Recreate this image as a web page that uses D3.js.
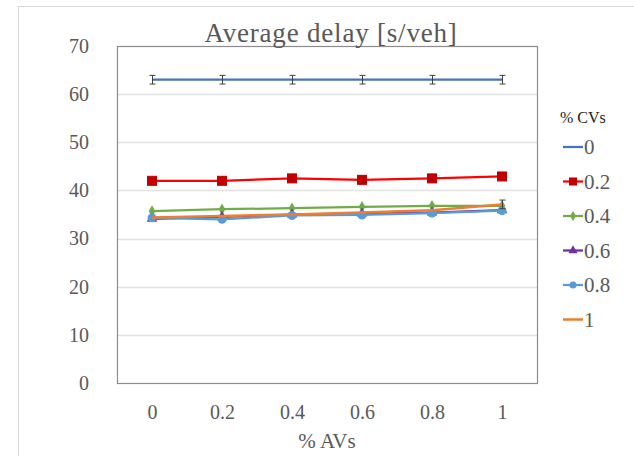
<!DOCTYPE html>
<html>
<head>
<meta charset="utf-8">
<script src="https://cdn.jsdelivr.net/npm/d3@7"></script>
<style>
  html, body { margin: 0; padding: 0; background: #fff; }
  svg { display: block; }
  text { font-family: "Liberation Serif", "DejaVu Serif", serif; fill: #595959; }
</style>
</head>
<body>
<svg id="chart" width="634" height="456"></svg>
<script>
// Share of automated vehicles (x categories)
const avShares = ["0", "0.2", "0.4", "0.6", "0.8", "1"];
// Series keyed by share of connected vehicles
const cvLabels = ["0", "0.2", "0.4", "0.6", "0.8", "1"];
const delayCV0  = [63.0, 63.0, 63.0, 63.0, 63.0, 63.0];
const delayCV02 = [42.0, 42.0, 42.5, 42.2, 42.5, 42.9];
const delayCV04 = [35.7, 36.1, 36.3, 36.6, 36.8, 36.8];
const delayCV06 = [34.1, 34.5, 35.0, 35.2, 35.4, 35.9];
const delayCV08 = [34.3, 34.0, 34.8, 34.9, 35.3, 35.8];
const delayCV1  = [34.4, 34.7, 35.0, 35.4, 35.9, 37.1];
const errCV0 = [0.9, 0.9, 0.9, 0.9, 0.9, 0.9];
const errCV1 = [0, 0, 0, 0, 0, 0.9];
const yTicks = [0, 10, 20, 30, 40, 50, 60, 70];

const series = [
  { name: cvLabels[0], values: delayCV0,  color: "#4472C4", marker: "none",     err: errCV0, width: 2.25 },
  { name: cvLabels[1], values: delayCV02, color: "#FF0000", marker: "square",   fill: "#C00000", width: 2.25 },
  { name: cvLabels[2], values: delayCV04, color: "#70AD47", marker: "diamond",  width: 2.25 },
  { name: cvLabels[3], values: delayCV06, color: "#7030A0", marker: "triangle", width: 2.25 },
  { name: cvLabels[4], values: delayCV08, color: "#5B9BD5", marker: "circle",   width: 2.25 },
  { name: cvLabels[5], values: delayCV1,  color: "#ED7D31", marker: "none",     err: errCV1, width: 2.5 }
];

const svg = d3.select("#chart");

// outer chart frame
svg.append("rect")
  .attr("x", 18.5).attr("y", 6.5)
  .attr("width", 640).attr("height", 470)
  .attr("fill", "#fff").attr("stroke", "#d9d9d9").attr("stroke-width", 1);

const plot = { left: 117, top: 46, right: 537, bottom: 383 };

const x = d3.scalePoint().domain(avShares).range([plot.left, plot.right]).padding(0.5);
const y = d3.scaleLinear().domain([0, 70]).range([plot.bottom, plot.top]);

// horizontal gridlines
svg.append("g")
  .selectAll("line")
  .data(yTicks.filter(t => t > 0 && t < 70))
  .join("line")
  .attr("x1", plot.left).attr("x2", plot.right)
  .attr("y1", d => Math.round(y(d)) + 0.5).attr("y2", d => Math.round(y(d)) + 0.5)
  .attr("stroke", "#e3e3e3").attr("stroke-width", 1.5);

// y axis labels
const yAxis = svg.append("g")
  .attr("transform", `translate(${plot.left},0)`)
  .call(d3.axisLeft(y).tickValues(yTicks).tickSize(0).tickPadding(28).tickFormat(d3.format("d")));
yAxis.select(".domain").remove();
yAxis.selectAll("text").style("font-size", "20px").attr("fill", "#595959")
  .style("font-family", "'Liberation Serif', serif");

// x axis labels
const xAxis = svg.append("g")
  .attr("transform", `translate(0,${plot.bottom})`)
  .call(d3.axisBottom(x).tickSize(0).tickPadding(22));
xAxis.select(".domain").remove();
xAxis.selectAll("text").style("font-size", "20px").attr("fill", "#595959")
  .style("font-family", "'Liberation Serif', serif");

// plot area border
svg.append("rect")
  .attr("x", plot.left + 0.5).attr("y", plot.top + 0.5)
  .attr("width", plot.right - plot.left).attr("height", plot.bottom - plot.top)
  .attr("fill", "none").attr("stroke", "#8c8c8c").attr("stroke-width", 1.2);

// title
svg.append("text")
  .attr("x", 331).attr("y", 42)
  .attr("text-anchor", "middle")
  .style("font-size", "27px")
  .style("letter-spacing", "0.8px")
  .text("Average delay [s/veh]");

// x axis title
svg.append("text")
  .attr("x", 327).attr("y", 448)
  .attr("text-anchor", "middle")
  .style("font-size", "21px")
  .text("% AVs");

function drawMarker(g, type, cx, cy, color, fill, size) {
  const s = size;
  if (type === "square") {
    g.append("rect").attr("x", cx - s).attr("y", cy - s).attr("width", 2 * s).attr("height", 2 * s)
      .attr("fill", fill || color).attr("stroke", fill || color);
  } else if (type === "diamond") {
    g.append("path").attr("d", d3.symbol(d3.symbolDiamond, s * s * 2.4)())
      .attr("transform", `translate(${cx},${cy})`).attr("fill", color);
  } else if (type === "triangle") {
    g.append("path").attr("d", d3.symbol(d3.symbolTriangle, s * s * 3)())
      .attr("transform", `translate(${cx},${cy})`).attr("fill", color);
  } else if (type === "circle") {
    g.append("circle").attr("cx", cx).attr("cy", cy).attr("r", s).attr("fill", color);
  }
}

const line = d3.line().x((d, i) => x(avShares[i])).y(d => y(d));

const seriesG = svg.append("g");
series.forEach(s => {
  const g = seriesG.append("g");
  g.append("path")
    .datum(s.values)
    .attr("d", line)
    .attr("fill", "none")
    .attr("stroke", s.color)
    .attr("stroke-width", s.width);
  const size = s.marker === "square" ? 4.5 : s.marker === "circle" ? 4.5 : 4;
  s.values.forEach((v, i) => {
    if (s.marker !== "none") drawMarker(g, s.marker, x(avShares[i]), y(v), s.color, s.fill, size);
  });
  if (s.err) {
    s.values.forEach((v, i) => {
      const e = s.err[i];
      if (!e) return;
      const cx = Math.round(x(avShares[i])) + 0.5;
      const eg = g.append("g").attr("stroke", "#404040").attr("stroke-width", 1);
      eg.append("line").attr("x1", cx).attr("x2", cx).attr("y1", y(v + e)).attr("y2", y(v - e));
      eg.append("line").attr("x1", cx - 3).attr("x2", cx + 3).attr("y1", y(v + e)).attr("y2", y(v + e));
      eg.append("line").attr("x1", cx - 3).attr("x2", cx + 3).attr("y1", y(v - e)).attr("y2", y(v - e));
    });
  }
});

// legend
const legend = svg.append("g");
legend.append("text")
  .attr("x", 560).attr("y", 123)
  .style("font-size", "16px")
  .style("fill", "#222")
  .text("% CVs");
series.forEach((s, i) => {
  const ly = 147 + i * 34.5;
  const lg = legend.append("g");
  lg.append("line").attr("x1", 563).attr("x2", 583).attr("y1", ly).attr("y2", ly)
    .attr("stroke", s.color).attr("stroke-width", s.width);
  if (s.marker !== "none") drawMarker(lg, s.marker, 573, ly, s.color, s.fill, 3.5);
  lg.append("text").attr("x", 584).attr("y", ly + 7)
    .style("font-size", "21px")
    .text(s.name);
});
</script>
</body>
</html>
